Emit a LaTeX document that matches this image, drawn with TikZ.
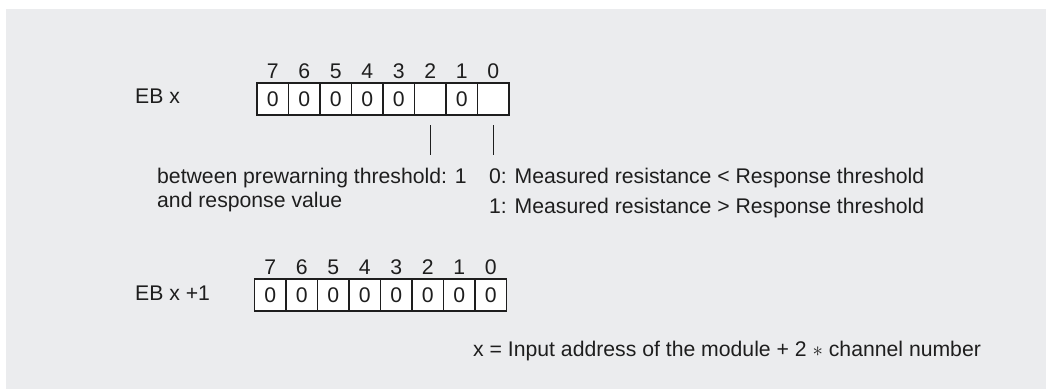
\documentclass[tikz,border=0pt]{standalone}
\usepackage{fontspec}
\setmainfont{Liberation Sans}
\usetikzlibrary{positioning}
\definecolor{panelgray}{HTML}{EBECEE}
\definecolor{inkgray}{HTML}{1E1E1E}
\tikzset{
  bitcell/.style={draw=inkgray, fill=white, line width=1.4pt, minimum width=31.5pt,
    minimum height=32pt, inner sep=0pt, outer sep=0pt, text=inkgray},
  bitnum/.style={inner sep=0pt, anchor=base, text=inkgray},
  note/.style={inner sep=0pt, anchor=base west, text=inkgray},
  tickline/.style={draw=inkgray, line width=1.2pt}
}
\begin{document}
\begin{tikzpicture}[x=1pt, y=-1pt, font=\fontsize{21.2}{25}\selectfont]
\useasboundingbox (0,0) rectangle (1046,389);
% Panel
\fill[panelgray] (6,9) rectangle (1046,389);

% EB x
\node[note] (ebx) at (135,103) {EB x};
\foreach \v [count=\i from 0] in {0,0,0,0,0,{},0,{}} {
  \pgfmathtruncatemacro\b{7-\i}
  \node[bitcell] (a\b) at (272.75+31.5*\i,99) {\v};
  \node[bitnum] (na\b) at (272.75+31.5*\i,78) {\b};
}

% Ticks
\path (a2.south) ++(0,40) coordinate (tick2);
\path (a0.south) ++(0,40) coordinate (tick0);
\draw[tickline, shorten <=10pt] (a2.south) -- (tick2);
\draw[tickline, shorten <=10pt] (a0.south) -- (tick0);

% Meanings
\node[note] (prewarn) at (157,183) {between prewarning threshold: 1};
\node[note] (prewarnb) at (157,207) {and response value};
\node[note] (resp0) at (489,183) {0: Measured resistance < Response threshold};
\node[note] (resp1) at (489,213) {1: Measured resistance > Response threshold};

% EB x +1
\node[note] (ebxb) at (135,300) {EB x +1};
\foreach \v [count=\i from 0] in {0,0,0,0,0,0,0,0} {
  \pgfmathtruncatemacro\b{7-\i}
  \node[bitcell] (b\b) at (270.25+31.5*\i,295) {\v};
  \node[bitnum] (nb\b) at (270.25+31.5*\i,274) {\b};
}

% Address
\node[note] (addr) at (473,356) {x = Input address of the module + 2 $*$ channel number};
\end{tikzpicture}
\end{document}
